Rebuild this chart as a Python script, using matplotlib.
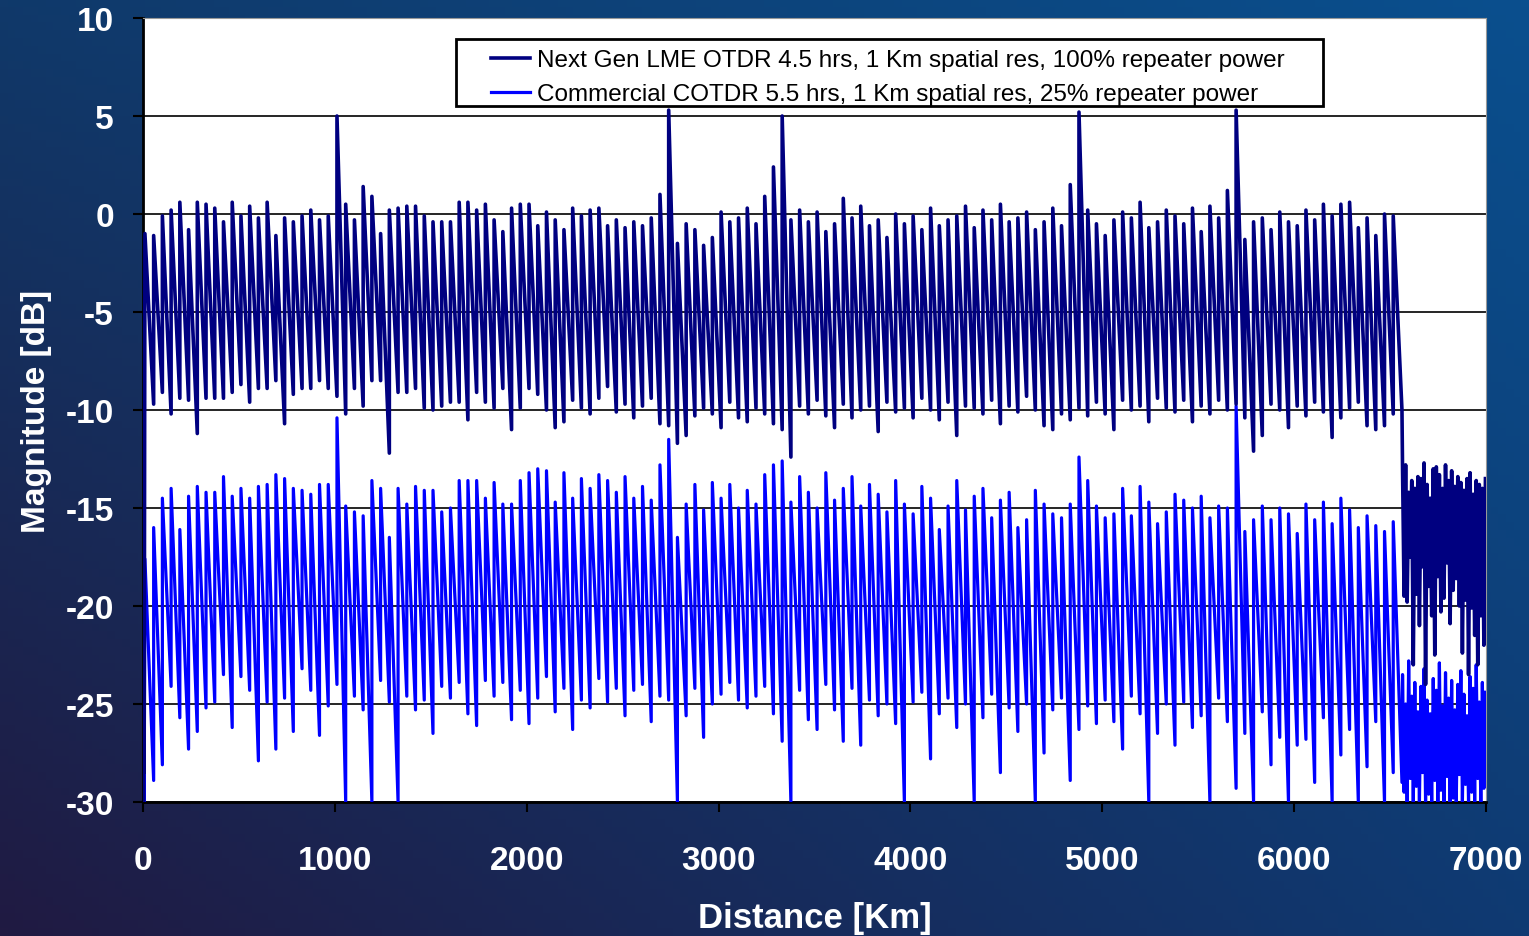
import numpy as np
import matplotlib.pyplot as plt
from matplotlib.colors import to_rgb
from matplotlib.patches import Rectangle

plt.rcParams['axes.unicode_minus'] = False

# repeater spans: one tooth per span, start km and span length
span_start = 10.0
span_len = 45.5

# Next Gen LME OTDR - peak and trough of each span [dB]
dark_peak = [-1.0, -1.1, -0.1, 0.2, 0.6, -0.8, 0.6, 0.5, 0.3, -0.4, 0.6, -0.1,
             0.4, -0.2, 0.6, -1.1, -0.2, -0.4, -0.1, 0.2, -0.3, -0.1, 5.0, 0.5,
             -0.3, 1.4, 0.9, -1.0, 0.2, 0.3, 0.4, 0.4, -0.1, -0.4, -0.4, -0.4,
             0.6, 0.6, 0.2, 0.5, -0.3, -0.9, 0.3, 0.5, 0.5, -0.6, 0.1, -0.3,
             -0.8, 0.3, -0.1, 0.2, 0.3, -0.6, -0.3, -0.7, -0.4, -0.6, -0.2, 1.0,
             5.3, -1.5, -0.5, -0.8, -1.6, -1.2, 0.1, -0.4, -0.2, 0.3, -0.5, 0.9,
             2.4, 5.0, -0.3, 0.2, -0.4, 0.1, -0.9, -0.5, 0.8, -0.2, 0.4, -0.6,
             -0.3, -1.2, 0.0, -0.5, -0.1, -0.8, 0.3, -0.6, -0.3, -0.1, 0.4, -0.7,
             0.2, -0.3, 0.5, -0.4, -0.2, 0.1, -0.8, -0.4, 0.3, -0.6, 1.5, 5.2,
             0.2, -0.5, -1.1, -0.3, 0.1, -0.2, 0.6, -0.7, -0.4, 0.2, -0.1, -0.5,
             0.3, -0.9, 0.4, -0.2, 1.2, 5.3, -1.3, -0.4, -0.2, -0.8, 0.1, -0.4,
             -0.6, 0.2, -0.3, 0.5, -0.1, 0.5, 0.6, -0.7, -0.2, -1.1, 0.0, -0.1]
dark_trough = [-9.7, -9.1, -10.2, -9.4, -9.5, -11.2, -9.4, -9.4, -9.4, -9.1, -8.7, -9.6,
               -8.9, -8.9, -8.5, -10.7, -9.2, -8.9, -8.9, -8.5, -8.9, -9.3, -10.2, -8.9,
               -9.8, -8.5, -8.5, -12.2, -9.1, -9.1, -8.9, -9.9, -10.0, -9.8, -9.6, -9.6,
               -10.5, -9.1, -9.6, -9.9, -8.9, -11.0, -9.9, -8.9, -9.2, -10.0, -10.9, -10.6,
               -9.5, -9.9, -10.2, -9.4, -8.8, -10.1, -9.7, -10.4, -9.8, -9.4, -10.7, -10.8,
               -11.7, -11.3, -10.3, -9.9, -10.2, -10.9, -9.6, -10.4, -10.6, -9.9, -10.2, -10.7,
               -11.0, -12.4, -9.8, -10.2, -9.5, -10.3, -10.9, -9.7, -10.4, -10.0, -9.8, -11.1,
               -9.6, -10.1, -9.9, -10.4, -9.4, -10.0, -10.5, -9.6, -11.3, -9.8, -9.9, -10.2,
               -9.5, -10.7, -9.8, -10.1, -9.3, -10.0, -10.8, -11.0, -10.2, -10.5, -9.9, -10.3,
               -9.6, -10.2, -11.0, -9.5, -10.0, -9.8, -10.6, -9.4, -9.9, -10.1, -9.5, -10.6,
               -9.8, -10.2, -9.5, -10.0, -9.7, -10.4, -12.1, -11.3, -9.7, -10.0, -10.9, -9.8,
               -10.3, -9.6, -10.1, -11.4, -10.4, -9.9, -9.6, -10.8, -11.0, -10.8, -10.2, -10.0]

# Commercial COTDR - peak and trough of each span [dB]
blue_peak = [-17.6, -16.0, -14.5, -14.0, -16.1, -14.4, -13.9, -14.2, -14.2, -13.4, -14.4, -14.0,
             -14.5, -13.9, -13.8, -13.3, -13.5, -14.0, -14.1, -14.3, -13.8, -13.8, -10.4, -14.9,
             -15.2, -15.4, -13.6, -14.0, -16.5, -14.0, -14.8, -13.9, -14.1, -14.1, -15.2, -15.0,
             -13.6, -13.6, -13.6, -14.5, -13.7, -14.8, -14.8, -13.6, -13.2, -13.0, -13.1, -14.7,
             -13.2, -14.5, -13.5, -14.0, -13.3, -13.6, -14.2, -13.4, -14.5, -13.9, -14.6, -12.8,
             -11.5, -16.5, -14.8, -13.8, -15.1, -13.7, -14.5, -13.8, -15.0, -14.1, -14.8, -13.3,
             -12.8, -12.6, -14.7, -13.4, -14.2, -15.0, -13.2, -14.6, -14.0, -13.4, -14.9, -13.8,
             -14.3, -15.2, -13.6, -14.8, -15.3, -13.9, -14.5, -16.1, -14.9, -13.6, -15.1, -14.4,
             -14.0, -15.5, -14.6, -14.2, -16.0, -15.6, -14.1, -14.8, -15.3, -15.5, -14.8, -12.4,
             -13.6, -14.9, -15.5, -15.3, -14.0, -15.4, -13.9, -14.7, -15.8, -15.2, -14.3, -14.6,
             -15.0, -14.4, -15.5, -14.9, -15.0, -9.8, -16.2, -15.6, -14.9, -15.6, -15.0, -15.3,
             -16.3, -14.8, -15.6, -14.7, -15.8, -14.5, -15.1, -16.0, -15.4, -15.9, -16.2, -15.7]
blue_trough = [-28.9, -28.1, -24.1, -25.7, -27.3, -26.4, -25.2, -24.9, -23.5, -26.2, -23.6, -24.3,
               -27.9, -24.9, -27.3, -24.7, -26.4, -23.2, -24.3, -26.6, -25.1, -24.0, -30.0, -24.6,
               -25.3, -30.0, -23.8, -24.9, -30.0, -24.6, -25.3, -24.8, -26.5, -24.1, -24.7, -23.9,
               -25.5, -26.1, -23.8, -24.6, -23.9, -25.8, -24.3, -26.0, -24.7, -23.6, -25.4, -24.2,
               -26.3, -24.8, -25.2, -23.7, -24.9, -24.2, -25.6, -24.3, -24.0, -25.9, -24.6, -24.8,
               -30.0, -25.6, -24.2, -26.7, -25.0, -24.5, -23.9, -24.8, -25.2, -24.6, -24.1, -25.5,
               -26.9, -30.0, -24.3, -25.8, -26.3, -24.0, -25.3, -26.9, -24.2, -27.1, -24.8, -25.6,
               -25.0, -26.0, -30.0, -24.9, -24.4, -27.8, -25.5, -24.7, -26.2, -25.0, -30.0, -25.7,
               -24.5, -28.5, -25.2, -26.4, -25.0, -30.0, -27.5, -25.3, -24.7, -28.9, -26.3, -25.1,
               -26.0, -24.8, -25.9, -27.3, -24.6, -25.5, -30.0, -26.5, -25.0, -27.1, -24.9, -26.2,
               -25.6, -30.0, -24.7, -25.9, -29.3, -26.5, -30.0, -25.4, -28.1, -26.7, -30.0, -27.1,
               -26.8, -29.0, -25.7, -30.0, -27.6, -26.3, -30.0, -28.2, -25.9, -30.0, -28.5, -29.0]

# launch region before first repeater
lead_km = [0, 2, 4, 6, 8]
lead_dark = [-13.0, -30.0, -13.5, -28.5, -13.2]
lead_blue = [-18.0, -30.0, -19.0, -30.0, -23.0]

# noise floor after end of the system (every 8 km from 6565)
tail_dark = [-13.0, -19.5, -12.8, -19.8, -14.2, -17.5, -13.6, -23.0, -14.0, -19.4, -13.4,
             -21.0, -13.5, -18.0, -12.7, -24.0, -13.8, -19.0, -14.5, -20.5, -13.0, -22.5,
             -12.9, -18.5, -13.3, -20.3, -14.0, -19.6, -12.8, -17.8, -13.6, -20.9, -13.1,
             -19.2, -13.9, -18.6, -13.4, -20.0, -13.7, -22.4, -14.1, -19.7, -13.5, -23.5,
             -13.2, -20.1, -14.3, -21.5, -13.6, -23.0, -13.8, -20.5, -14.0, -22.0, -13.5]
tail_blue = [-23.5, -29.5, -25.0, -30.0, -22.8, -28.8, -24.6, -30.0, -23.9, -29.2, -25.4,
             -30.0, -24.1, -28.5, -23.2, -30.0, -24.8, -29.6, -25.5, -30.0, -23.7, -28.9,
             -24.3, -30.0, -22.9, -29.4, -25.1, -30.0, -23.4, -28.7, -24.7, -30.0, -23.8,
             -29.8, -25.3, -30.0, -24.0, -28.6, -23.3, -30.0, -24.5, -29.1, -25.6, -30.0,
             -23.6, -29.5, -24.2, -30.0, -23.0, -28.8, -24.9, -30.0, -23.9, -29.3, -24.4]

labels = ['Next Gen LME OTDR 4.5 hrs, 1 Km spatial res, 100% repeater power',
          'Commercial COTDR 5.5 hrs, 1 Km spatial res, 25% repeater power']


def trace(lead, peaks, troughs, tail):
    xs = list(lead_km)
    ys = list(lead)
    for i in range(len(peaks)):
        x0 = span_start + i * span_len
        xs += [x0, x0 + span_len]
        ys += [peaks[i], troughs[i]]
    xt = 6565 + 8 * np.arange(len(tail))
    xs += list(xt)
    ys += list(tail)
    return xs, ys


xd, yd = trace(lead_dark, dark_peak, dark_trough, tail_dark)
xb, yb = trace(lead_blue, blue_peak, blue_trough, tail_blue)

fig = plt.figure(figsize=(15.29, 9.37), dpi=100)

# slide background gradient
bg = fig.add_axes([0, 0, 1, 1], zorder=-10)
tl, tr = np.array(to_rgb('#10396a')), np.array(to_rgb('#0a4f8e'))
bl, br = np.array(to_rgb('#201a42')), np.array(to_rgb('#0f3a72'))
u = np.linspace(0, 1, 200)[None, :, None]
v = np.linspace(0, 1, 120)[:, None, None]
img = (1 - v) * ((1 - u) * tl + u * tr) + v * ((1 - u) * bl + u * br)
bg.imshow(img, aspect='auto', extent=[0, 1, 0, 1])
bg.axis('off')

ax = fig.add_axes([143 / 1529, 134 / 937, 1343 / 1529, 784 / 937])
ax.set_facecolor('white')
ax.plot(xb, yb, color='#0000ff', lw=2.3, label=labels[1], zorder=3)
ax.plot(xd, yd, color='#000080', lw=2.6, label=labels[0], zorder=4)

ax.set_xlim(0, 7000)
ax.set_ylim(-30, 10)
ax.set_xticks(np.arange(0, 7001, 1000))
ax.set_yticks(np.arange(-30, 11, 5))
ax.grid(axis='y', color='black', lw=1.2)
ax.set_axisbelow(True)
for s in ['top', 'right']:
    ax.spines[s].set_color('#999999')
for s in ['left', 'bottom']:
    ax.spines[s].set_color('black')
    ax.spines[s].set_linewidth(2)
ax.tick_params(colors='black', labelcolor='white', length=7, width=1.5)
ax.tick_params(axis='x', pad=24)
ax.tick_params(axis='y', pad=14)
for lab in ax.get_xticklabels() + ax.get_yticklabels():
    lab.set_fontfamily('Liberation Sans')
    lab.set_fontweight('bold')
    lab.set_fontsize(24)

ax.set_xlabel('Distance [Km]', color='white', fontsize=25, fontweight='bold',
              family='Liberation Sans', labelpad=18)
ax.set_ylabel('Magnitude [dB]', color='white', fontsize=24, fontweight='bold',
              family='Liberation Sans', labelpad=10)

h, l = ax.get_legend_handles_labels()
leg = fig.legend(h[::-1], l[::-1], loc='upper left',
                 bbox_to_anchor=(491 / 1529, 1 - 50 / 937),
                 prop={'family': 'Liberation Sans', 'size': 17.5}, frameon=False,
                 handlelength=1.6, handletextpad=0.3, borderpad=0, labelspacing=0.5,
                 borderaxespad=0)
leg.set_zorder(10)
fig.patches.append(Rectangle((456 / 1529, 1 - 107 / 937), 867 / 1529, 67 / 937,
                             transform=fig.transFigure, facecolor='white',
                             edgecolor='black', lw=2, zorder=9))

plt.savefig('out.png', dpi=100)
